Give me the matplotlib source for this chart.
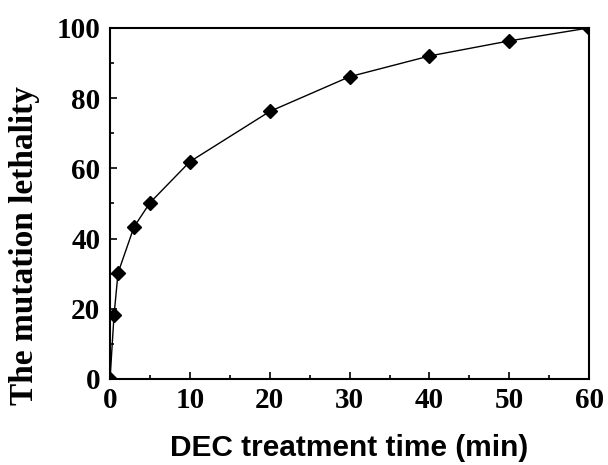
import matplotlib
matplotlib.use('Agg')
import matplotlib.pyplot as plt
from matplotlib.ticker import MultipleLocator

# data
time_min = [0, 0.5, 1, 3, 5, 10, 20, 30, 40, 50, 60]
lethality = [0, 18.2, 30.2, 43.3, 50.2, 61.9, 76.2, 86.1, 92.0, 96.3, 100]

serif = 'Liberation Serif'
sans = 'Liberation Sans'

fig = plt.figure(figsize=(6.08, 4.65), dpi=100)
ax = fig.add_axes([0.181, 0.185, 0.788, 0.755])

ax.plot(time_min, lethality, color='black', linewidth=1.0,
        marker='D', markersize=7.5, markerfacecolor='black', clip_on=True)

ax.set_xlim(0, 60)
ax.set_ylim(0, 100)
ax.xaxis.set_major_locator(MultipleLocator(10))
ax.xaxis.set_minor_locator(MultipleLocator(5))
ax.yaxis.set_major_locator(MultipleLocator(20))
ax.yaxis.set_minor_locator(MultipleLocator(10))
ax.tick_params(which='both', direction='in', top=False, right=False, width=1.2)
ax.tick_params(which='major', length=5)
ax.tick_params(axis='x', which='major', pad=6)
ax.tick_params(axis='y', which='major', pad=7)
ax.tick_params(which='minor', length=3)

for lbl in ax.get_xticklabels() + ax.get_yticklabels():
    lbl.set_fontfamily(serif)
    lbl.set_fontweight('bold')
    lbl.set_fontsize(21)

for sp in ax.spines.values():
    sp.set_linewidth(1.5)

ax.set_xlabel('DEC treatment time (min)', fontfamily=sans, fontweight='bold', fontsize=21.5)
ax.set_ylabel('The mutation lethality', fontfamily=serif, fontweight='bold', fontsize=24)
ax.xaxis.set_label_coords(0.5, -0.157)
ax.yaxis.set_label_coords(-0.146, 0.379)
ax.xaxis.label.set_va('top')

fig.savefig('out.png', dpi=100)
